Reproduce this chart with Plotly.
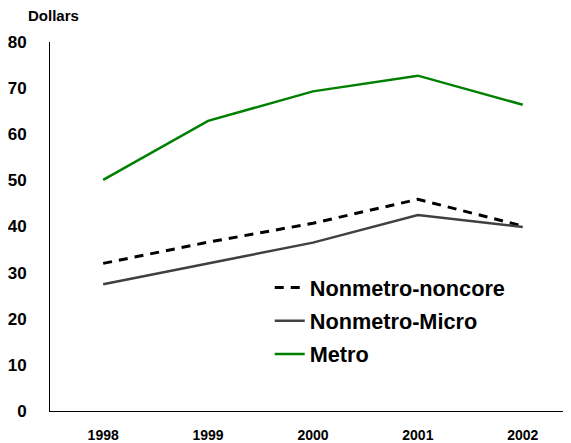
import plotly.graph_objects as go

years = ["1998", "1999", "2000", "2001", "2002"]
noncore = [32.0, 36.6, 40.7, 45.9, 40.1]
micro = [27.5, 32.0, 36.5, 42.5, 39.9]
metro = [50.1, 62.9, 69.3, 72.7, 66.4]

idx = list(range(len(years)))
FONT = "Arial, Liberation Sans, sans-serif"

# page body has an 8px margin; plot area in window: x 47..571, y 42..411
PL, PT, PW, PH = 47, 42, 524, 369
W, H = 571 - 8, 443 - 8

fig = go.Figure()
fig.add_trace(go.Scatter(x=idx, y=noncore, mode="lines", name="Nonmetro-noncore",
                         legendgroup="a",
                         line=dict(color="#000000", width=3, dash="9px,7px")))
fig.add_trace(go.Scatter(x=idx, y=micro, mode="lines", name="Nonmetro-Micro",
                         legendgroup="b",
                         line=dict(color="#404040", width=2.5)))
fig.add_trace(go.Scatter(x=idx, y=metro, mode="lines", name="Metro",
                         legendgroup="c",
                         line=dict(color="#008000", width=2.5)))

fig.update_layout(
    width=W, height=H,
    margin=dict(l=PL-8, r=W-(PL-8)-PW, t=PT-8, b=H-(PT-8)-PH),
    paper_bgcolor="white", plot_bgcolor="white",
    font=dict(family=FONT, color="black"),
    showlegend=True,
    xaxis=dict(range=[-0.507, 4.46], tickvals=idx, ticktext=years,
               showgrid=False, zeroline=False, showline=True, linecolor="black",
               linewidth=1, ticks="", ticklabelstandoff=11,
               tickfont=dict(size=14, family=FONT, color="black", weight="bold")),
    yaxis=dict(range=[0, 80], dtick=10, showgrid=False, zeroline=False,
               showline=True, linecolor="black", linewidth=1, ticks="",
               ticklabelstandoff=19,
               tickfont=dict(size=17, family=FONT, color="black", weight="bold")),
    legend=dict(x=(268-PL)/PW, y=1-(267-PT)/PH, xanchor="left", yanchor="top",
                bgcolor="rgba(0,0,0,0)", font=dict(size=21.7, family=FONT, weight="bold"),
                tracegroupgap=2, itemwidth=30),
    annotations=[dict(text="<b>Dollars</b>", xref="paper", yref="paper",
                      x=(23-PL)/PW, y=1+(PT-15.5)/PH, xanchor="left", yanchor="middle",
                      showarrow=False, font=dict(size=15, family=FONT))],
)
fig.write_html("out.html")
